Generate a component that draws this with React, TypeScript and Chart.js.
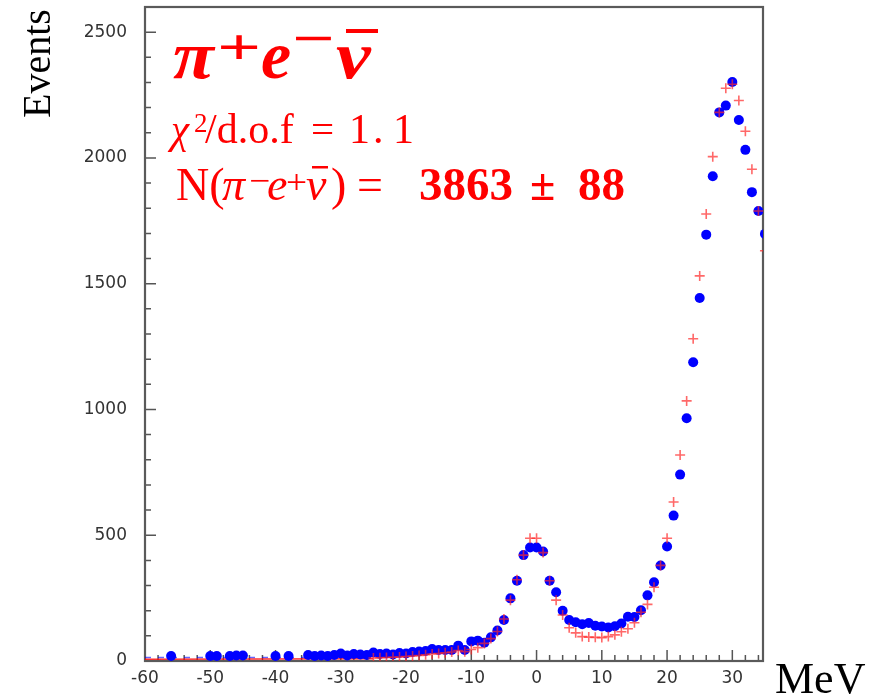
import React, { useEffect, useRef } from "react";
import { Chart, registerables } from "chart.js";

Chart.register(...registerables);

// ---- axis ranges & tick labels ----
const X_MIN = -60;
const X_MAX = 34.7;
const Y_MIN = 0;
const Y_MAX = 2600;
const X_TICKS = [-60, -50, -40, -30, -20, -10, 0, 10, 20, 30];
const Y_TICKS = [0, 500, 1000, 1500, 2000, 2500];

// ---- data (blue dots) ----
const DATA_MEV = [
  -56, -50, -49, -47, -46, -45, -40, -38, -35,
  -34, -33, -32, -31, -30, -29, -28, -27, -26, -25,
  -24, -23, -22, -21, -20, -19, -18, -17, -16, -15,
  -14, -13, -12, -11, -10, -9, -8, -7, -6, -5,
  -4, -3, -2, -1, 0, 1, 2, 3, 4, 5,
  6, 7, 8, 9, 10, 11, 12, 13, 14, 15,
  16, 17, 18, 19, 20, 21, 22, 23, 24, 25,
  26, 27, 28, 29, 30, 31, 32, 33, 34, 35,
];
const DATA_EVENTS = [
  20, 20, 20, 20, 22, 22, 20, 20, 24,
  20, 22, 20, 24, 30, 22, 28, 26, 24, 34,
  28, 30, 26, 32, 30, 36, 38, 40, 48, 44,
  44, 44, 61, 44, 78, 81, 73, 94, 121, 163,
  249, 319, 421, 451, 451, 435, 319, 273, 200, 163,
  154, 146, 151, 140, 137, 133, 138, 149, 176, 175,
  202, 261, 313, 380, 455, 578, 741, 965, 1188, 1443,
  1695, 1927, 2181, 2208, 2302, 2151, 2032, 1864, 1789, 1698,
];

// ---- Monte Carlo (red crosses) ----
const MC_MEV = [
  -25, -24, -23, -22, -21, -20, -19, -18, -17, -16,
  -15, -14, -13, -12, -11, -10, -9, -8, -7, -6,
  -5, -4, -3, -2, -1, 0, 1, 2, 3, 4,
  5, 6, 7, 8, 9, 10, 11, 12, 13, 14,
  15, 16, 17, 18, 19, 20, 21, 22, 23, 24,
  25, 26, 27, 28, 29, 30, 31, 32, 33, 34,
  35,
];
const MC_EVENTS = [
  12, 13, 14, 15, 16, 18, 20, 22, 25, 28,
  30, 33, 36, 42, 37, 46, 53, 70, 89, 117,
  167, 242, 323, 421, 488, 488, 431, 319, 242, 183,
  132, 112, 97, 95, 94, 93, 97, 104, 116, 128,
  152, 194, 225, 293, 380, 488, 632, 819, 1034, 1281,
  1531, 1777, 2005, 2181, 2277, 2293, 2228, 2106, 1955, 1789,
  1631,
];

// ---- low tail lines along the baseline ----
const MC_TAIL_MEV = [-60, -25];
const MC_TAIL_EVENTS = [7, 9];
const DATA_TAIL_MEV = [-60, -34];
const DATA_TAIL_EVENTS = [14, 14];

const RED = "#ff0000";
const SERIF = '"Liberation Serif", "Times New Roman", serif';

const pts = (xs: number[], ys: number[]) => xs.map((x, i) => ({ x, y: ys[i] }));

type Run = {
  t: string;
  x: number;
  y: number;
  size: number;
  bold?: boolean;
  italic?: boolean;
  sx?: number;
  sy?: number;
  color?: string;
};

const ANNOT: Run[] = [
  // title  pi+ e- nubar
  { t: "π", x: 173, y: 78, size: 68, bold: true, italic: true, sx: 1.1 },
  { t: "+", x: 217, y: 64, size: 50, bold: true, sx: 1.55 },
  { t: "e", x: 261, y: 78, size: 68, bold: true, italic: true },
  { t: "−", x: 292, y: 55, size: 50, bold: true, sx: 1.5 },
  { t: "ν", x: 336, y: 78, size: 68, bold: true, italic: true, sx: 1.15 },
  // chi2 line
  { t: "χ", x: 171, y: 143, size: 41, italic: true },
  { t: "2", x: 194, y: 132, size: 27 },
  { t: "/d.o.f", x: 205, y: 143, size: 42 },
  { t: "=", x: 311, y: 143, size: 41 },
  { t: "1", x: 349, y: 143, size: 42 },
  { t: ".", x: 373, y: 143, size: 42 },
  { t: "1", x: 393, y: 143, size: 42 },
  // N line
  { t: "N(", x: 176, y: 200, size: 46 },
  { t: "π", x: 222, y: 200, size: 46, italic: true },
  { t: "−", x: 249, y: 192, size: 34, sx: 1.1 },
  { t: "e", x: 267, y: 200, size: 46, italic: true },
  { t: "+", x: 286, y: 193, size: 34, sx: 1.1 },
  { t: "ν", x: 306, y: 200, size: 46, italic: true },
  { t: ")", x: 331, y: 200, size: 46 },
  { t: "=", x: 357, y: 200, size: 46 },
  { t: "3863", x: 419, y: 200, size: 47, bold: true },
  { t: "±", x: 530, y: 200, size: 46, bold: true },
  { t: "88", x: 578, y: 200, size: 47, bold: true },
];

const BARS = [
  { x: 346, y: 29, w: 32, h: 4 },
  { x: 312, y: 166, w: 16, h: 2.5 },
];

const textPlugin = {
  id: "annotText",
  afterDraw(chart: any) {
    const ctx = chart.ctx as CanvasRenderingContext2D;
    ctx.save();
    ctx.textBaseline = "alphabetic";
    ctx.textAlign = "left";
    for (const r of ANNOT) {
      ctx.save();
      ctx.translate(r.x, r.y);
      ctx.scale(r.sx ?? 1, r.sy ?? 1);
      ctx.font = `${r.italic ? "italic " : ""}${r.bold ? "bold " : ""}${r.size}px ${SERIF}`;
      ctx.fillStyle = r.color ?? RED;
      ctx.fillText(r.t, 0, 0);
      ctx.restore();
    }
    ctx.fillStyle = RED;
    for (const b of BARS) ctx.fillRect(b.x, b.y, b.w, b.h);

    // axis titles
    ctx.fillStyle = "#000";
    ctx.font = `40px ${SERIF}`;
    ctx.save();
    ctx.translate(50, 63.5);
    ctx.rotate(-Math.PI / 2);
    ctx.textAlign = "center";
    ctx.fillText("Events", 0, 0);
    ctx.restore();
    ctx.font = `44px ${SERIF}`;
    ctx.textAlign = "left";
    ctx.fillText("MeV", 775, 693);
    ctx.restore();
  },
};

const framePlugin = {
  id: "rootFrame",
  beforeDatasetsDraw(chart: any) {
    const ctx = chart.ctx as CanvasRenderingContext2D;
    const { left, right, top, bottom } = chart.chartArea;
    const xs = chart.scales.x;
    const ys = chart.scales.y;
    ctx.save();
    ctx.strokeStyle = "#555";
    ctx.lineWidth = 1.5;
    ctx.beginPath();
    for (let v = -60; v <= X_MAX; v += 2) {
      const px = xs.getPixelForValue(v);
      const len = v % 10 === 0 ? 11 : 6;
      ctx.moveTo(px, bottom);
      ctx.lineTo(px, bottom - len);
    }
    for (let v = 0; v <= Y_MAX; v += 100) {
      const py = ys.getPixelForValue(v);
      const len = v % 500 === 0 ? 11 : 6;
      ctx.moveTo(left, py);
      ctx.lineTo(left + len, py);
    }
    ctx.stroke();
    ctx.strokeStyle = "#5a5a5a";
    ctx.lineWidth = 2.2;
    ctx.strokeRect(left, top, right - left, bottom - top);
    ctx.restore();
  },
};

const zeroPad = (s: any) => {
  s.paddingTop = 0;
  s.paddingBottom = 0;
  s.paddingLeft = 0;
  s.paddingRight = 0;
};

export default function App() {
  const ref = useRef<HTMLCanvasElement | null>(null);
  useEffect(() => {
    if (!ref.current) return;
    const chart = new Chart(ref.current, {
      type: "line",
      data: {
        datasets: [
          {
            label: "MC",
            data: pts(MC_MEV, MC_EVENTS),
            showLine: false,
            pointStyle: "cross",
            pointRadius: 5,
            pointBorderWidth: 1.6,
            borderColor: "rgba(255,40,40,0.7)",
            backgroundColor: "rgba(255,40,40,0.7)",
            clip: 0,
            order: 0,
          },
          {
            label: "Data",
            data: pts(DATA_MEV, DATA_EVENTS),
            showLine: false,
            pointStyle: "circle",
            pointRadius: 5,
            pointBorderWidth: 0,
            borderColor: "#0000ff",
            backgroundColor: "#0000ff",
            clip: 0,
            order: 1,
          },
          {
            label: "MC tail",
            data: pts(MC_TAIL_MEV, MC_TAIL_EVENTS),
            borderColor: "rgba(255,0,0,0.8)",
            borderWidth: 1.5,
            pointRadius: 0,
            clip: 0,
            order: 2,
          },
          {
            label: "Data tail",
            data: pts(DATA_TAIL_MEV, DATA_TAIL_EVENTS),
            borderColor: "rgba(0,0,255,0.6)",
            borderWidth: 1.5,
            borderDash: [6, 7],
            pointRadius: 0,
            clip: 0,
            order: 3,
          },
        ],
      },
      options: {
        animation: false,
        responsive: false,
        devicePixelRatio: 1,
        layout: { padding: { left: 0, top: 7, right: 879 - 763, bottom: 0 } },
        plugins: { legend: { display: false }, tooltip: { enabled: false } },
        scales: {
          x: {
            type: "linear",
            min: X_MIN,
            max: X_MAX,
            grid: { display: false, drawTicks: false },
            border: { display: false },
            ticks: {
              autoSkip: false,
              maxRotation: 0,
              padding: 7,
              color: "#333",
              font: { family: '"DejaVu Sans", sans-serif', size: 17 },
              callback: (v: any) => String(v),
            },
            afterBuildTicks: (s: any) => {
              s.ticks = X_TICKS.map((v) => ({ value: v }));
            },
            afterFit: (s: any) => {
              s.height = 35;
              zeroPad(s);
            },
          },
          y: {
            type: "linear",
            min: Y_MIN,
            max: Y_MAX,
            grid: { display: false, drawTicks: false },
            border: { display: false },
            ticks: {
              padding: 18,
              color: "#333",
              font: { family: '"DejaVu Sans", sans-serif', size: 17 },
              callback: (v: any) => String(v),
            },
            afterBuildTicks: (s: any) => {
              s.ticks = Y_TICKS.map((v) => ({ value: v }));
            },
            afterFit: (s: any) => {
              s.width = 145;
              zeroPad(s);
            },
          },
        },
      },
      plugins: [framePlugin, textPlugin],
    } as any);
    return () => chart.destroy();
  }, []);
  return (
    <div style={{ position: "fixed", left: 0, top: 0, width: 879, height: 696, background: "#fff" }}>
      <canvas ref={ref} width={879} height={696} style={{ display: "block" }} />
    </div>
  );
}
